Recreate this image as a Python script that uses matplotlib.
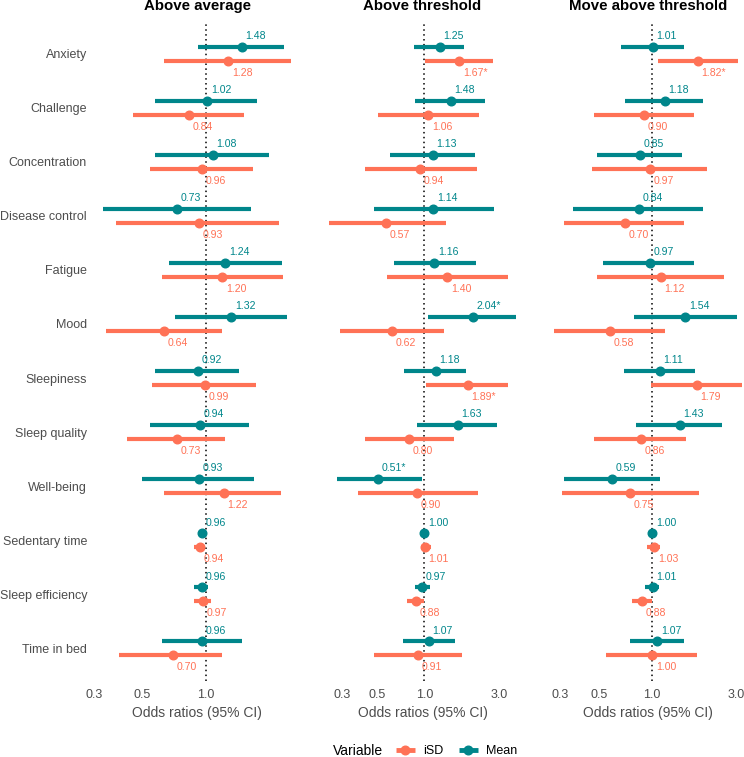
import matplotlib
matplotlib.use('Agg')
import matplotlib.pyplot as plt
import numpy as np
from matplotlib.lines import Line2D

plt.rcParams['font.family'] = ['Liberation Sans', 'DejaVu Sans']

categories = ["Anxiety", "Challenge", "Concentration", "Disease control", "Fatigue",
              "Mood", "Sleepiness", "Sleep quality", "Well-being", "Sedentary time",
              "Sleep efficiency", "Time in bed"]
panels = ["Above average", "Above threshold", "Move above threshold"]

# Panel 1: Above average
p1_mean_or = [1.48, 1.02, 1.08, 0.73, 1.24, 1.32, 0.92, 0.94, 0.93, 0.96, 0.96, 0.96]
p1_mean_lo = [0.92, 0.58, 0.58, 0.33, 0.67, 0.72, 0.58, 0.55, 0.50, 0.95, 0.88, 0.62]
p1_mean_hi = [2.33, 1.75, 1.98, 1.63, 2.29, 2.41, 1.43, 1.60, 1.70, 0.97, 1.03, 1.48]
p1_isd_or = [1.28, 0.84, 0.96, 0.93, 1.20, 0.64, 0.99, 0.73, 1.22, 0.94, 0.97, 0.70]
p1_isd_lo = [0.64, 0.455, 0.55, 0.38, 0.62, 0.34, 0.56, 0.425, 0.64, 0.88, 0.88, 0.39]
p1_isd_hi = [2.53, 1.52, 1.67, 2.21, 2.31, 1.20, 1.73, 1.23, 2.27, 0.99, 1.06, 1.20]
p1_mean_sig = [False] * 12
p1_isd_sig = [False] * 12

# Panel 2: Above threshold
p2_mean_or = [1.25, 1.48, 1.13, 1.14, 1.16, 2.04, 1.18, 1.63, 0.51, 1.00, 0.97, 1.07]
p2_mean_lo = [0.865, 0.87, 0.61, 0.48, 0.64, 1.06, 0.74, 0.90, 0.28, 0.98, 0.87, 0.73]
p2_mean_hi = [1.80, 2.44, 2.09, 2.76, 2.12, 3.85, 1.83, 2.88, 0.97, 1.02, 1.09, 1.56]
p2_isd_or = [1.67, 1.06, 0.94, 0.57, 1.40, 0.62, 1.89, 0.80, 0.90, 1.01, 0.88, 0.91]
p2_isd_lo = [1.01, 0.51, 0.42, 0.247, 0.58, 0.29, 1.02, 0.42, 0.38, 0.95, 0.78, 0.48]
p2_isd_hi = [2.72, 2.22, 2.15, 1.37, 3.38, 1.33, 3.38, 1.54, 2.19, 1.10, 1.00, 1.73]
p2_mean_sig = [False, False, False, False, False, True, False, False, True, False, False, False]
p2_isd_sig = [True, False, False, False, False, False, True, False, False, False, False, False]

# Panel 3: Move above threshold
p3_mean_or = [1.01, 1.18, 0.85, 0.84, 0.97, 1.54, 1.11, 1.43, 0.59, 1.00, 1.01, 1.07]
p3_mean_lo = [0.665, 0.70, 0.49, 0.356, 0.53, 0.79, 0.69, 0.81, 0.317, 0.98, 0.91, 0.75]
p3_mean_hi = [1.51, 1.94, 1.47, 1.94, 1.72, 3.01, 1.74, 2.48, 1.105, 1.02, 1.09, 1.51]
p3_isd_or = [1.82, 0.90, 0.97, 0.70, 1.12, 0.58, 1.79, 0.86, 0.75, 1.03, 0.88, 1.00]
p3_isd_lo = [1.08, 0.47, 0.456, 0.317, 0.49, 0.278, 0.99, 0.47, 0.309, 0.93, 0.77, 0.55]
p3_isd_hi = [3.05, 1.72, 2.06, 1.51, 2.54, 1.19, 3.22, 1.55, 1.84, 1.115, 1.00, 1.79]
p3_mean_sig = [False] * 12
p3_isd_sig = [True, False, False, False, False, False, False, False, False, False, False, False]

xticks = [0.3, 0.5, 1.0, 3.0]
xtick_labels = ["0.3", "0.5", "1.0", "3.0"]

COL_ISD = "#FF7256"
COL_MEAN = "#00868B"
TXT = "#4D4D4D"

W, H = 744, 757
fig = plt.figure(figsize=(W / 100, H / 100), dpi=100)

panel_data = [
    (p1_mean_or, p1_mean_lo, p1_mean_hi, p1_mean_sig, p1_isd_or, p1_isd_lo, p1_isd_hi, p1_isd_sig),
    (p2_mean_or, p2_mean_lo, p2_mean_hi, p2_mean_sig, p2_isd_or, p2_isd_lo, p2_isd_hi, p2_isd_sig),
    (p3_mean_or, p3_mean_lo, p3_mean_hi, p3_mean_sig, p3_isd_or, p3_isd_lo, p3_isd_hi, p3_isd_sig),
]

left_px = [94, 319.3, 544.6]
width_px = 206.5
top_px, bottom_px = 21.5, 680.5
n = len(categories)
ypos = np.arange(n)
dodge = 0.135

for k, (title, pdata) in enumerate(zip(panels, panel_data)):
    m_or, m_lo, m_hi, m_sig, s_or, s_lo, s_hi, s_sig = pdata
    ax = fig.add_axes([left_px[k] / W, 1 - bottom_px / H, width_px / W, (bottom_px - top_px) / H])
    ax.set_xscale('log')
    ax.axvline(1.0, color='black', lw=1.1, ls=(0, (1, 2.2)), zorder=1)

    for (orr, l, h, sig, col, off, toff) in [
        (m_or, m_lo, m_hi, m_sig, COL_MEAN, -dodge, -0.325),
        (s_or, s_lo, s_hi, s_sig, COL_ISD, dodge, 0.35),
    ]:
        yy = ypos + off
        ax.hlines(yy, l, h, color=col, lw=3.0, zorder=2, capstyle='butt')
        ax.plot(orr, yy, 'o', color=col, ms=6.2, zorder=3, mec=col)
        for i in range(n):
            lab = f"{orr[i]:.2f}" + ("*" if sig[i] else "")
            ax.annotate(lab, (orr[i], ypos[i] + toff), xytext=(2.6, 0), textcoords='offset points',
                        ha='left', va='center', fontsize=7.6, color=col, zorder=4)

    for s in ax.spines.values():
        s.set_visible(False)
    ax.set_xticks(xticks)
    ax.set_xticklabels(xtick_labels)
    ax.minorticks_off()
    # free x scale per panel: data range with 5% expansion (log space)
    allv = np.log(np.array(m_lo + m_hi + s_lo + s_hi))
    lo, hi = allv.min(), allv.max()
    ex = 0.05 * (hi - lo)
    ax.set_xlim(np.exp(lo - ex), np.exp(hi + ex))
    ax.tick_params(axis='both', length=0, labelsize=9, labelcolor=TXT)
    ax.tick_params(axis='x', pad=6)
    ax.set_xlabel("Odds ratios (95% CI)", fontsize=10, color=TXT, labelpad=4)
    ax.set_title(title, fontsize=10.8, fontweight='bold', color='black', pad=8)
    ax.set_yticks(ypos)
    if k == 0:
        ax.set_yticklabels(categories)
        ax.tick_params(axis='y', pad=5)
    else:
        ax.set_yticklabels([])
    ax.set_ylim(n - 1 + 0.6, -0.6)
    ax.patch.set_alpha(0)

# Legend
fig.text(333 / W, 1 - 751 / H, "Variable", ha='left', va='center', fontsize=10, color='black')
handles = [
    Line2D([], [], color=COL_ISD, lw=3.5, marker='o', ms=6.2, solid_capstyle='butt'),
    Line2D([], [], color=COL_MEAN, lw=3.5, marker='o', ms=6.2, solid_capstyle='butt'),
]
fig.legend(handles, ["iSD", "Mean"], loc='center left', bbox_to_anchor=(396 / W, 1 - 751 / H),
           ncol=2, frameon=False, fontsize=9, handlelength=1.5, handletextpad=0.7,
           columnspacing=1.2, borderpad=0, borderaxespad=0)

fig.savefig("out.png", dpi=100)
